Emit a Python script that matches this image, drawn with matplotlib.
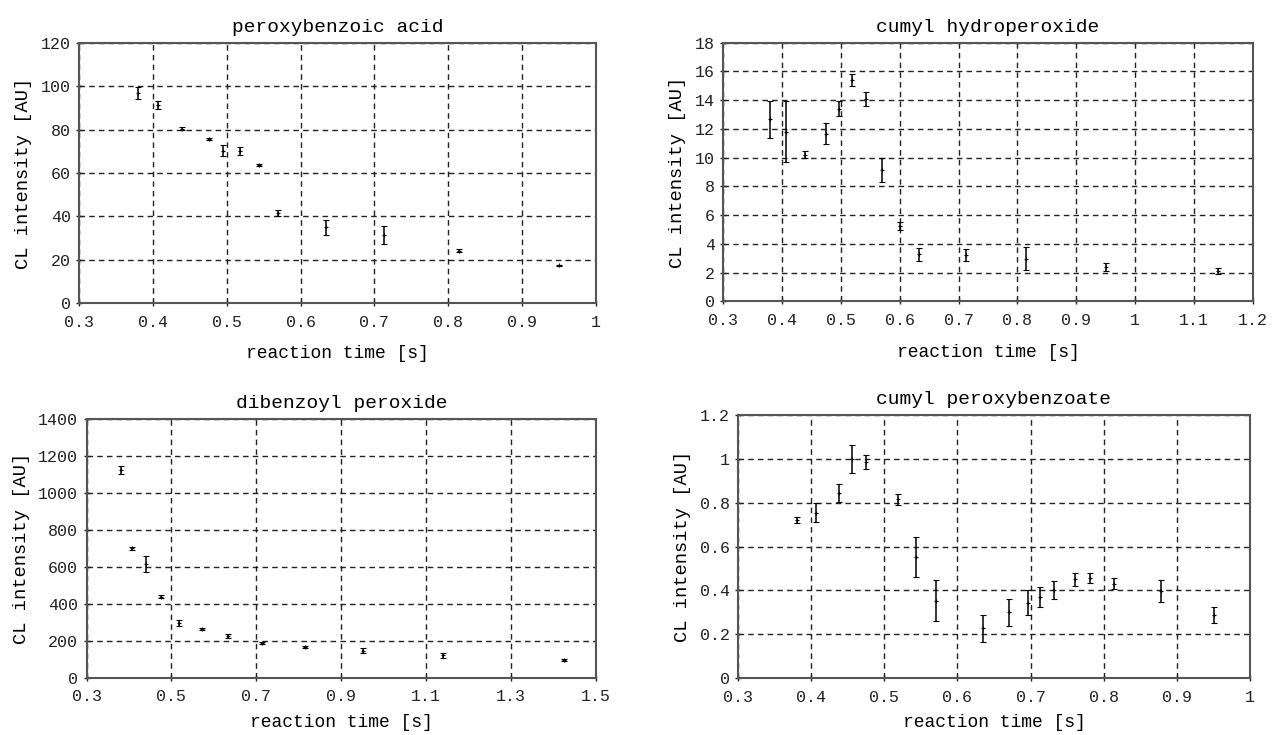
import numpy as np
import matplotlib
matplotlib.use("Agg")
import matplotlib.pyplot as plt
from matplotlib.ticker import FuncFormatter

plt.rcParams['font.family'] = ['Liberation Mono', 'DejaVu Sans Mono']

# peroxybenzoic acid
t_pba = [0.380, 0.407, 0.439, 0.476, 0.4955, 0.5186, 0.5438, 0.570, 0.634, 0.713, 0.8145, 0.950]
cl_pba = [96.9, 91.3, 80.5, 75.8, 70.3, 70.2, 63.6, 41.6, 35.0, 31.4, 24.2, 17.4]
err_pba = [2.8, 1.8, 0.5, 0.5, 2.5, 1.7, 0.5, 1.5, 3.4, 4.3, 0.5, 0.3]

# cumyl hydroperoxide
t_chp = [0.3803, 0.4075, 0.439, 0.4754, 0.4964, 0.519, 0.5433, 0.570, 0.600, 0.633, 0.7126, 0.8139, 0.9497, 1.140]
cl_chp = [12.67, 11.81, 10.21, 11.67, 13.41, 15.4, 14.08, 9.14, 5.23, 3.28, 3.21, 2.98, 2.42, 2.14]
err_chp = [1.3, 2.1, 0.25, 0.75, 0.5, 0.4, 0.5, 0.82, 0.28, 0.45, 0.42, 0.81, 0.29, 0.22]

# dibenzoyl peroxide
t_dbp = [0.3816, 0.408, 0.440, 0.4765, 0.5188, 0.572, 0.634, 0.713, 0.8156, 0.950, 1.1407, 1.4244]
cl_dbp = [1123, 701, 616, 437, 296, 263, 225, 188, 164, 146, 121, 95]
err_dbp = [20, 8, 43, 8, 18, 5, 13, 5, 6, 12, 14, 6]

# cumyl peroxybenzoate
t_cpb = [0.3805, 0.4068, 0.4387, 0.4564, 0.4755, 0.5189, 0.543, 0.5708, 0.6346, 0.6705, 0.696,
         0.7124, 0.7316, 0.761, 0.7807, 0.8144, 0.8777, 0.951]
cl_cpb = [0.722, 0.756, 0.846, 1.0, 0.986, 0.817, 0.553, 0.353, 0.227, 0.300, 0.344,
          0.372, 0.402, 0.451, 0.456, 0.431, 0.398, 0.288]
err_cpb = [0.013, 0.045, 0.043, 0.064, 0.032, 0.024, 0.091, 0.094, 0.062, 0.063, 0.056,
           0.046, 0.042, 0.031, 0.024, 0.025, 0.052, 0.036]

panels = [
    ("peroxybenzoic acid", t_pba, cl_pba, err_pba, (0.3, 1.0), np.arange(0.3, 1.01, 0.1), (0, 120), np.arange(0, 121, 20),
     [0.0621, 0.5878, 0.4061, 0.3537], 11),
    ("cumyl hydroperoxide", t_chp, cl_chp, err_chp, (0.3, 1.2), np.arange(0.3, 1.21, 0.1), (0, 18), np.arange(0, 19, 2),
     [0.568, 0.5898, 0.4163, 0.3522], 11),
    ("dibenzoyl peroxide", t_dbp, cl_dbp, err_dbp, (0.3, 1.5), np.arange(0.3, 1.51, 0.2), (0, 1400), np.arange(0, 1401, 200),
     [0.068, 0.0781, 0.4002, 0.3518], 7),
    ("cumyl peroxybenzoate", t_cpb, cl_cpb, err_cpb, (0.3, 1.0), np.arange(0.3, 1.01, 0.1), (0, 1.2), np.arange(0, 1.21, 0.2),
     [0.5797, 0.0776, 0.4022, 0.3571], 7),
]

fig = plt.figure(figsize=(12.73, 7.35), dpi=100)

# tick labels like "0.3", "1", "0"
fmt = FuncFormatter(lambda v, p: ('%.1f' % v).rstrip('0').rstrip('.') if abs(v) > 1e-9 else '0')

for title, t, cl, err, xl, xt, yl, yt, pos, lpad in panels:
    ax = fig.add_axes(pos)
    ax.errorbar(t, cl, yerr=err, fmt='+', color='black', ms=3, mew=0.8,
                elinewidth=1.1, capsize=2.5, capthick=1.0, zorder=3)
    ax.set_xlim(*xl)
    ax.set_ylim(*yl)
    ax.set_xticks(xt)
    ax.set_yticks(yt)
    ax.xaxis.set_major_formatter(fmt)
    ax.yaxis.set_major_formatter(fmt)
    ax.grid(True, color='#222222', linestyle=(0, (4, 3)), linewidth=1.0)
    ax.tick_params(direction='inout', length=5, width=1, labelsize=12, colors='#222222')
    ax.tick_params(axis='x', pad=6)
    for s in ax.spines.values():
        s.set_color('#555555')
        s.set_linewidth(1.5)
    ax.set_title(title, fontsize=14, pad=8)
    ax.set_xlabel("reaction time [s]", fontsize=13, labelpad=lpad)
    ax.set_ylabel("CL intensity [AU]", fontsize=13.5, labelpad=6)

fig.savefig("out.png", dpi=100)
